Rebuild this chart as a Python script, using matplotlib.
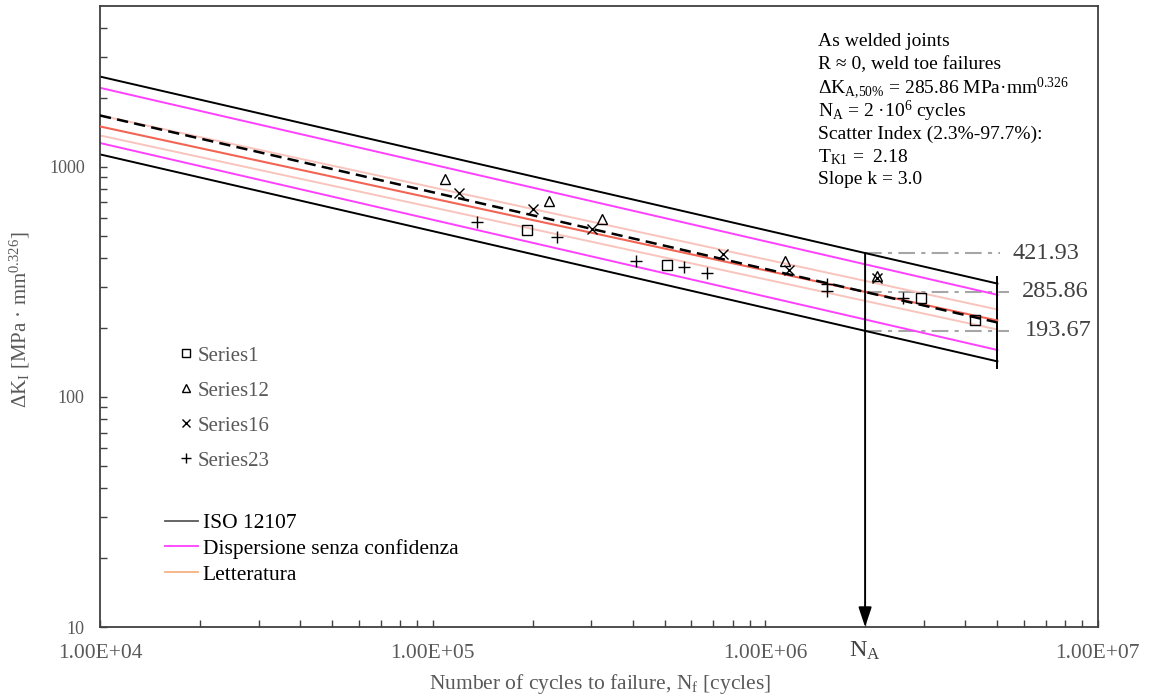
import numpy as np
import matplotlib
matplotlib.use('Agg')
import matplotlib.pyplot as plt
from matplotlib.lines import Line2D
from matplotlib.ticker import FixedLocator, NullFormatter
from matplotlib.transforms import blended_transform_factory

plt.rcParams['font.family'] = ['Liberation Serif', 'DejaVu Serif']
plt.rcParams['mathtext.fontset'] = 'custom'
plt.rcParams['mathtext.rm'] = 'Liberation Serif'
plt.rcParams['mathtext.it'] = 'Liberation Serif:italic'
plt.rcParams['mathtext.bf'] = 'Liberation Serif:bold'

# ---------------- data ----------------
N_A = 2e6
N_start = 1e4
N_end = 5e6

iso_levels = [421.93, 285.86, 193.67]     # ISO 12107 band at N_A (upper, mean, lower)
k_iso = 3.0
disp_levels = [377.0, 217.0]              # dispersion without confidence at N_A
k_disp = 3.0
lit_levels = [319.4, 286.0, 261.4]        # literature band at N_A (upper, mean, lower)
k_lit = 3.2
cap_levels = [333.0, 133.0]               # vertical end bar at N_end

series1_N = [1.92e5, 5.06e5, 2.945e6, 4.28e6]
series1_K = [533, 376, 268, 215]
series12_N = [1.09e5, 2.245e5, 3.228e5, 1.149e6, 2.168e6]
series12_K = [884, 712, 593, 388, 337]
series16_N = [1.204e5, 2.010e5, 3.012e5, 7.49e5, 1.183e6, 2.168e6]
series16_K = [773, 655, 537, 418, 356, 328]
series23_N = [1.358e5, 2.363e5, 4.093e5, 5.72e5, 6.68e5, 1.533e6, 1.533e6, 2.606e6]
series23_K = [577, 497, 388, 368, 346, 310, 288, 269]

x_ticks = [1e4, 1e5, 1e6, 1e7]
x_ticklabels = ['1.00E+04', '1.00E+05', '1.00E+06', '1.00E+07']
y_ticks = [10, 100, 1000]
y_ticklabels = ['10', '100', '1000']
ref_labels = ['421.93', '285.86', '193.67']
ref_line_end = [5.1e6, 5.4e6, 5.4e6]
ref_label_N = [5.57e6, 5.93e6, 6.05e6]

GRAY = '#595959'

def curve(level, k, N):
    N = np.asarray(N, dtype=float)
    return level * (N_A / N) ** (1.0 / k)

# ---------------- figure ----------------
fig = plt.figure(figsize=(11.5, 6.98), dpi=100)
W, H = 1150, 698
ax = fig.add_axes([100 / W, 1 - 627 / H, 997.5 / W, 621 / H])
ax.set_xscale('log')
ax.set_yscale('log')
ax.set_xlim(1e4, 1e7)
ax.set_ylim(10, 5000)

Nline = np.array([N_start, N_end])

# ISO lines
ax.plot(Nline, curve(iso_levels[0], k_iso, Nline), color='black', lw=1.4, zorder=2)
ax.plot(Nline, curve(iso_levels[2], k_iso, Nline), color='black', lw=1.4, zorder=2)
# dispersion lines
for lv in disp_levels:
    ax.plot(Nline, curve(lv, k_disp, Nline), color='#ff40ff', lw=1.4, zorder=2)
# literature
ax.plot(Nline, curve(lit_levels[0], k_lit, Nline), color='#f8c4bc', lw=1.4, zorder=2)
ax.plot(Nline, curve(lit_levels[2], k_lit, Nline), color='#f8c4bc', lw=1.4, zorder=2)
ax.plot(Nline, curve(lit_levels[1], k_lit, Nline), color='#f26454', lw=1.5, zorder=3)
# mean dashed
ax.plot(Nline, curve(iso_levels[1], k_iso, Nline), color='black', lw=1.8,
        ls=(0, (4.5, 2.5)), zorder=4)

# vertical end bar
ax.plot([N_end, N_end], cap_levels, color='black', lw=1.4, zorder=2)

# reference dash-dot lines and labels
for lv, lab, ne, nl in zip(iso_levels, ref_labels, ref_line_end, ref_label_N):
    ax.plot([N_A, ne], [lv, lv], color='#a6a6a6', lw=1.5,
            ls=(0, (8, 3, 2, 3)), zorder=1)
    ax.text(nl, lv, lab, fontsize=17.5, color='#404040', ha='left', va='center')

# N_A arrow
ax.annotate('', xy=(N_A, 10), xytext=(N_A, iso_levels[0]),
            arrowprops=dict(arrowstyle='-|>,head_length=1.2,head_width=0.4',
                            color='black', lw=1.4, shrinkA=0, shrinkB=0,
                            mutation_scale=10), zorder=3)

# data points
mk = dict(linestyle='none', color='black', mfc='none', mew=1.0, zorder=5)
ax.plot(series1_N, series1_K, marker='s', ms=7, **mk)
ax.plot(series12_N, series12_K, marker='^', ms=7, **mk)
ax.plot(series16_N, series16_K, marker='x', ms=7, **mk)
ax.plot(series23_N, series23_K, marker='+', ms=8, **mk)

# axes styling
for sp in ax.spines.values():
    sp.set_color('#404040')
    sp.set_linewidth(1.3)
ax.xaxis.set_major_locator(FixedLocator(x_ticks))
ax.set_xticklabels(x_ticklabels)
ax.xaxis.set_minor_locator(FixedLocator(
    [m * 10 ** e for e in range(4, 7) for m in range(2, 10)]))
ax.xaxis.set_minor_formatter(NullFormatter())
ax.yaxis.set_major_locator(FixedLocator(y_ticks))
ax.set_yticklabels(y_ticklabels)
ax.yaxis.set_minor_locator(FixedLocator(
    [m * 10 ** e for e in range(1, 4) for m in range(2, 10) if m * 10 ** e < 5000]))
ax.yaxis.set_minor_formatter(NullFormatter())
ax.tick_params(axis='both', which='both', direction='in', color='#404040', width=1.0)
ax.tick_params(axis='both', which='major', length=5)
ax.tick_params(axis='both', which='minor', length=5)
ax.tick_params(axis='x', which='major', labelsize=15.5, labelcolor=GRAY, pad=12)
ax.tick_params(axis='y', which='major', labelsize=13, labelcolor=GRAY, pad=11)

# N_A label
trans = blended_transform_factory(ax.transData, fig.transFigure)
ax.text(N_A, 1 - 651 / H, r'N$_\mathrm{A}$', transform=trans, fontsize=17.5,
        color='#404040', ha='center', va='center')

# axis titles
fig.text(600 / W, 1 - 684 / H, r'Number of cycles to failure, N$_\mathrm{f}$ [cycles]',
         fontsize=15.5, color=GRAY, ha='center', va='center')
fig.text(20 / W, 1 - 320 / H, r'ΔK$_\mathrm{I}$ [MPa · mm$^{0.326}$]',
         fontsize=15, color=GRAY, ha='center', va='center', rotation=90)

# annotation box text
box_lines = ['As welded joints',
             'R ≈ 0, weld toe failures',
             r'ΔK$_{\mathrm{A{,}50\%}}$ = 285.86 MPa·mm$^{0.326}$',
             r'N$_\mathrm{A}$ = 2 ·10$^{6}$ cycles',
             'Scatter Index (2.3%-97.7%):',
             r'T$_\mathrm{K1}$ =  2.18',
             'Slope k = 3.0']
box_y = [42, 65, 88, 111, 134, 157, 180]
for t, yy in zip(box_lines, box_y):
    fig.text(818 / W, 1 - yy / H, t, fontsize=14, color='black', ha='left', va='center')

# legends
h1 = [Line2D([], [], marker='s', ls='none', color='black', mfc='none', ms=6, mew=1.0),
      Line2D([], [], marker='^', ls='none', color='black', mfc='none', ms=6, mew=1.0),
      Line2D([], [], marker='x', ls='none', color='black', mfc='none', ms=6, mew=1.0),
      Line2D([], [], marker='+', ls='none', color='black', mfc='none', ms=7, mew=1.0)]
leg1 = fig.legend(h1, ['Series1', 'Series12', 'Series16', 'Series23'],
                  loc='upper left', bbox_to_anchor=(181 / W, 1 - 346 / H),
                  frameon=False, fontsize=15, labelcolor=GRAY, borderpad=0,
                  borderaxespad=0, handlelength=0.5, handletextpad=0.3,
                  labelspacing=0.74)
h2 = [Line2D([], [], color='#595959', lw=1.3),
      Line2D([], [], color='#ff40ff', lw=1.3),
      Line2D([], [], color='#f4b183', lw=1.3)]
leg2 = fig.legend(h2, ['ISO 12107', 'Dispersione senza confidenza', 'Letteratura'],
                  loc='upper left', bbox_to_anchor=(165 / W, 1 - 513 / H),
                  frameon=False, fontsize=15.5, labelcolor='black', borderpad=0,
                  borderaxespad=0, handlelength=1.55, handletextpad=0.2,
                  labelspacing=0.27)

fig.savefig('out.png', dpi=100)
